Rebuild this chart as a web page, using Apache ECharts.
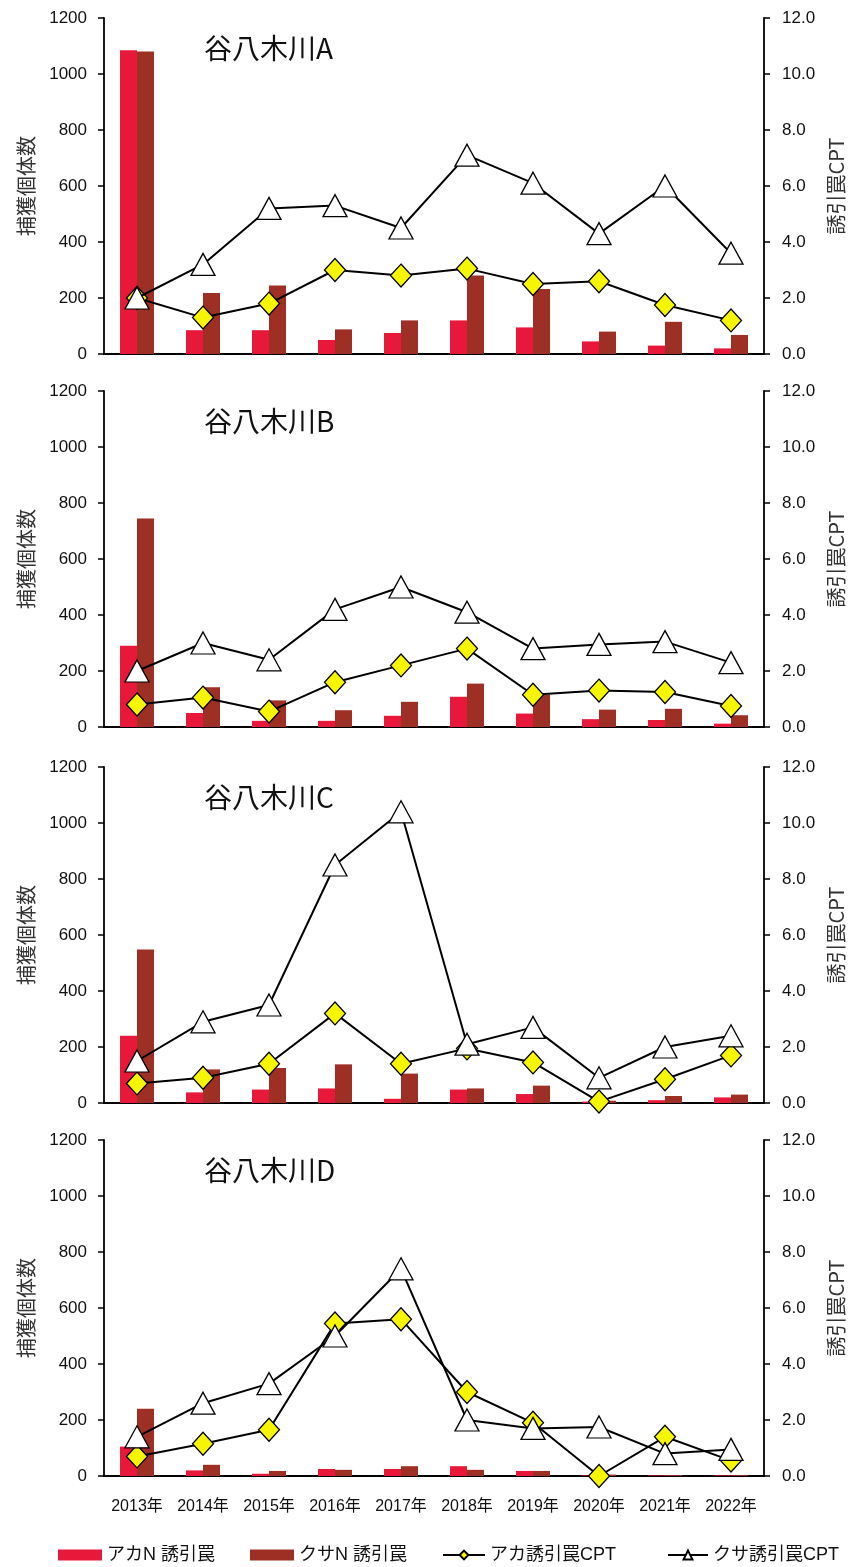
<!DOCTYPE html>
<html><head><meta charset="utf-8">
<script src="https://cdn.jsdelivr.net/npm/echarts@6/dist/echarts.min.js"></script>
<style>html,body{margin:0;padding:0;background:#fff}#c{width:854px;height:1567px}</style>
</head><body><div id="c"></div>
<script>
// ---- data ----
const years = ['2013年','2014年','2015年','2016年','2017年','2018年','2019年','2020年','2021年','2022年'];
const panelTitles = ['谷八木川A','谷八木川B','谷八木川C','谷八木川D'];
const seriesNames = ['アカN 誘引罠','クサN 誘引罠','アカ誘引罠CPT','クサ誘引罠CPT'];
const countAxisMax = 1200, countAxisStep = 200;
const cptAxisMax = 12, cptAxisStep = 2;
const leftAxisName = '捕獲個体数';
const rightAxisName = '誘引罠CPT';

// 谷八木川A
const akaN_A   = [1085, 85, 85, 50, 75, 120, 95, 45, 30, 20];
const kusaN_A  = [1080, 218, 245, 88, 120, 280, 232, 80, 115, 68];
const akaCPT_A = [2.0, 1.3, 1.8, 3.0, 2.8, 3.05, 2.5, 2.6, 1.75, 1.2];
const kusaCPT_A= [2.0, 3.2, 5.2, 5.3, 4.5, 7.1, 6.1, 4.3, 6.0, 3.6];
// 谷八木川B
const akaN_B   = [290, 50, 22, 22, 40, 108, 48, 28, 25, 12];
const kusaN_B  = [745, 142, 95, 60, 90, 155, 115, 62, 65, 42];
const akaCPT_B = [0.8, 1.05, 0.55, 1.6, 2.2, 2.8, 1.15, 1.3, 1.25, 0.75];
const kusaCPT_B= [2.0, 3.0, 2.4, 4.2, 5.0, 4.1, 2.8, 2.95, 3.05, 2.3];
// 谷八木川C
const akaN_C   = [240, 38, 48, 52, 15, 48, 32, 5, 10, 20];
const kusaN_C  = [548, 120, 125, 138, 105, 52, 62, 8, 25, 30];
const akaCPT_C = [0.7, 0.9, 1.4, 3.2, 1.4, 1.95, 1.45, 0.05, 0.85, 1.7];
const kusaCPT_C= [1.5, 2.9, 3.5, 8.5, 10.4, 2.1, 2.7, 0.9, 2.0, 2.4];
// 谷八木川D
const akaN_D   = [105, 20, 8, 25, 25, 35, 18, 2, 2, 2];
const kusaN_D  = [240, 40, 18, 22, 35, 22, 18, 5, 3, 3];
const akaCPT_D = [0.7, 1.15, 1.65, 5.45, 5.6, 3.0, 1.9, 0.0, 1.4, 0.55];
const kusaCPT_D= [1.4, 2.6, 3.3, 5.0, 7.4, 2.0, 1.7, 1.75, 0.8, 0.95];

const panels = [
  [akaN_A, kusaN_A, akaCPT_A, kusaCPT_A],
  [akaN_B, kusaN_B, akaCPT_B, kusaCPT_B],
  [akaN_C, kusaN_C, akaCPT_C, kusaCPT_C],
  [akaN_D, kusaN_D, akaCPT_D, kusaCPT_D]
];

// ---- layout / style ----
const gridTops = [18, 391, 767, 1140];
const gridH = 336;
const RED = '#e8183a', BROWN = '#9e2f25', YEL = '#f6f600';
const numFont = "'Liberation Sans', 'Noto Sans CJK JP', sans-serif";
const jpFont = "'Noto Sans CJK JP', sans-serif";

const chart = echarts.init(document.getElementById('c'), null, {renderer: 'canvas'});

const grid = [], xAxis = [], yAxis = [], series = [], title = [];
panels.forEach((p, i) => {
  grid.push({left: 104, right: 90, top: gridTops[i], height: gridH, containLabel: false});
  title.push({text: panelTitles[i], left: 199, top: gridTops[i] + 11,
    textStyle: {fontFamily: jpFont, fontSize: 28, fontWeight: 'normal', color: '#111'}});
  const last = i === panels.length - 1;
  xAxis.push({type: 'category', gridIndex: i, data: years, boundaryGap: true,
    axisLine: {show: true, lineStyle: {color: '#000', width: 1.8}},
    axisTick: {show: false},
    axisLabel: {show: last, margin: 23, fontSize: 16, color: '#111', fontFamily: numFont, interval: 0},
    splitLine: {show: false}});
  yAxis.push({type: 'value', gridIndex: i, min: 0, max: countAxisMax, interval: countAxisStep,
    position: 'left',
    name: leftAxisName, nameLocation: 'middle', nameRotate: 90, nameGap: 68,
    nameTextStyle: {fontFamily: jpFont, fontSize: 20, color: '#333'},
    axisLine: {show: true, lineStyle: {color: '#000', width: 1.8}},
    axisTick: {show: true, length: 6, lineStyle: {color: '#000', width: 1.5}},
    axisLabel: {margin: 17, fontSize: 17, color: '#111', fontFamily: numFont,
      formatter: v => String(v)},
    splitLine: {show: false}});
  yAxis.push({type: 'value', gridIndex: i, min: 0, max: cptAxisMax, interval: cptAxisStep,
    position: 'right',
    name: rightAxisName, nameLocation: 'middle', nameRotate: 90, nameGap: 56,
    nameTextStyle: {fontFamily: jpFont, fontSize: 20, color: '#333'},
    axisLine: {show: true, lineStyle: {color: '#000', width: 1.8}},
    axisTick: {show: true, length: 6, lineStyle: {color: '#000', width: 1.5}},
    axisLabel: {margin: 18, fontSize: 17, color: '#111', fontFamily: numFont,
      formatter: v => v.toFixed(1)},
    splitLine: {show: false}});
  series.push({name: seriesNames[0], type: 'bar', xAxisIndex: i, yAxisIndex: 2*i, data: p[0],
    barWidth: 17, barGap: '0%', itemStyle: {color: RED}, z: 2});
  series.push({name: seriesNames[1], type: 'bar', xAxisIndex: i, yAxisIndex: 2*i, data: p[1],
    barWidth: 17, barGap: '0%', itemStyle: {color: BROWN}, z: 2});
  series.push({name: seriesNames[2], type: 'line', xAxisIndex: i, yAxisIndex: 2*i+1, data: p[2],
    symbol: 'diamond', symbolSize: [21, 23], showAllSymbol: true,
    lineStyle: {color: '#000', width: 2},
    itemStyle: {color: YEL, borderColor: '#000', borderWidth: 1.3}, z: 3});
  series.push({name: seriesNames[3], type: 'line', xAxisIndex: i, yAxisIndex: 2*i+1, data: p[3],
    symbol: 'triangle', symbolSize: [24, 22], showAllSymbol: true,
    lineStyle: {color: '#000', width: 2},
    itemStyle: {color: '#fff', borderColor: '#000', borderWidth: 1.3}, z: 4});
});

const legendBase = {top: 1541, itemHeight: 11, orient: 'horizontal',
  textStyle: {fontFamily: numFont, fontSize: 18, color: '#111'}, itemGap: 4};
const legend = [
  Object.assign({}, legendBase, {left: 53, data: [{name: seriesNames[0], icon: 'rect'}], itemWidth: 44}),
  Object.assign({}, legendBase, {left: 245, data: [{name: seriesNames[1], icon: 'rect'}], itemWidth: 44}),
  Object.assign({}, legendBase, {left: 437, data: [seriesNames[2]], itemWidth: 42}),
  Object.assign({}, legendBase, {left: 662, data: [seriesNames[3]], itemWidth: 40})
];

chart.setOption({
  animation: false,
  backgroundColor: '#fff',
  title, grid, xAxis, yAxis, series, legend
});
</script>
</body></html>
